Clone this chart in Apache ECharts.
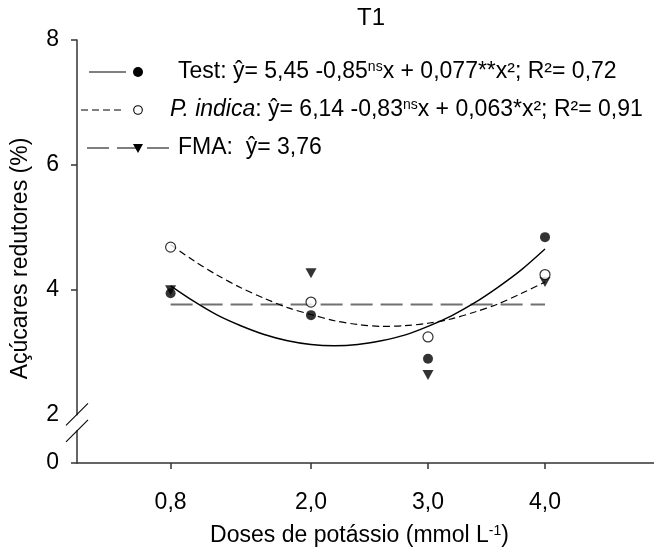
<!DOCTYPE html>
<html>
<head>
<meta charset="utf-8">
<script src="https://cdn.jsdelivr.net/npm/echarts@6/dist/echarts.min.js"></script>
<style>html,body{margin:0;padding:0;background:#fff}#c{width:654px;height:549px}</style>
</head>
<body>
<div id="c"></div>
<script>
// ---- data ----
const doses = [0.8, 2.0, 3.0, 4.0];
const yTickValues = [0, 2, 4, 6, 8];
const testObs = [3.94, 3.59, 2.89, 4.84];
const indicaObs = [4.68, 3.80, 3.24, 4.24];
const fmaObs = [3.99, 4.26, 2.63, 4.12];
const fmaMean = 3.76;
const curveX = [0.8, 1.0, 1.2, 1.4, 1.6, 1.8, 2.0, 2.2, 2.4, 2.6, 2.8, 3.0, 3.2, 3.4, 3.6, 3.8, 4.0];
const testFit = [4.06, 3.81, 3.59, 3.42, 3.28, 3.18, 3.12, 3.10, 3.12, 3.18, 3.27, 3.41, 3.58, 3.79, 4.04, 4.32, 4.65];
const indicaFit = [4.72, 4.46, 4.23, 4.03, 3.86, 3.71, 3.60, 3.50, 3.44, 3.41, 3.42, 3.46, 3.53, 3.64, 3.77, 3.94, 4.12];
const legendTexts = [
  'Test: ŷ= 5,45 -0,85{sup|ns}x + 0,077**x²; R²= 0,72',
  '{it|P. indica}: ŷ= 6,14 -0,83{sup|ns}x + 0,063*x²; R²= 0,91',
  'FMA:  ŷ= 3,76'
];

// ---- layout ----
const FONT = 'Liberation Sans, Arial, sans-serif';
const ZERO_POS = 1.22; // axis position where the broken y axis shows 0
const LEG_FS = 23;
const TICK_FS = 23;
const zip = (xs, ys) => xs.map((x, i) => [x, ys[i]]);
const fmt = v => v.toFixed(1).replace('.', ',');

const chart = echarts.init(document.getElementById('c'), null, {renderer: 'canvas'});
const axisColor = '#333';
const yPos = yTickValues.map(v => v === 0 ? ZERO_POS : v);

chart.setOption({
  animation: false,
  backgroundColor: '#fff',
  textStyle: {fontFamily: FONT},
  title: {text: 'T1', left: 352, top: 1,
    textStyle: {fontSize: 24, fontWeight: 'normal', color: '#000', fontFamily: FONT}},
  grid: {left: 77, top: 40, right: -8, bottom: 86, containLabel: false, outerBoundsMode: 'none'},
  xAxis: {
    type: 'value', min: 0, max: 5,
    name: 'Doses de potássio (mmol L{sup|-1})',
    nameLocation: 'middle', nameGap: 61,
    nameTextStyle: {fontSize: 23, color: '#000', fontFamily: FONT, padding: [0, 20, 0, 0],
      rich: {sup: {fontSize: 14, verticalAlign: 'top', color: '#000', fontFamily: FONT}}},
    axisLine: {show: true, onZero: false, lineStyle: {color: axisColor, width: 1.5}},
    axisTick: {show: true, inside: false, length: 6, customValues: doses,
      lineStyle: {color: axisColor, width: 1.5}},
    axisLabel: {customValues: doses, formatter: v => fmt(v), margin: 28,
      fontSize: TICK_FS, color: '#000', fontFamily: FONT},
    splitLine: {show: false}
  },
  yAxis: {
    type: 'value', min: ZERO_POS, max: 8,
    name: 'Açúcares redutores (%)',
    nameLocation: 'middle', nameGap: 45,
    nameTextStyle: {fontSize: 23, color: '#000', fontFamily: FONT, padding: [0, 14, 0, 0]},
    axisLine: {show: true, onZero: false, lineStyle: {color: axisColor, width: 1.5}},
    axisTick: {show: true, inside: false, length: 6,
      customValues: yPos.filter(v => v !== 2), lineStyle: {color: axisColor, width: 1.5}},
    axisLabel: {customValues: yPos, margin: 18,
      formatter: v => (Math.abs(v - ZERO_POS) < 1e-6 ? '0' : String(Math.round(v))),
      fontSize: TICK_FS, color: '#000', fontFamily: FONT},
    splitLine: {show: false}
  },
  series: [
    {name: 'Test fit', type: 'line', data: zip(curveX, testFit), smooth: 0.3,
      showSymbol: false, symbol: 'none', lineStyle: {color: '#000', width: 1.4}, z: 3},
    {name: 'P. indica fit', type: 'line', data: zip(curveX, indicaFit), smooth: 0.3,
      showSymbol: false, symbol: 'none', lineStyle: {color: '#000', width: 1.2, type: [7, 4]}, z: 3},
    {name: 'FMA', type: 'line', data: [[doses[0], fmaMean], [doses[doses.length - 1], fmaMean]],
      showSymbol: false, symbol: 'none', lineStyle: {color: '#707070', width: 2, type: [22, 8]}, z: 2},
    {name: 'FMA obs', type: 'scatter', data: zip(doses, fmaObs), symbol: 'triangle',
      symbolRotate: 180, symbolSize: [11, 10], itemStyle: {color: '#000'}, z: 4},
    {name: 'Test obs', type: 'scatter', data: zip(doses, testObs), symbol: 'circle',
      symbolSize: 10, itemStyle: {color: '#000'}, z: 5},
    {name: 'P. indica obs', type: 'scatter', data: zip(doses, indicaObs), symbol: 'circle',
      symbolSize: 10, itemStyle: {color: '#fff', borderColor: '#000', borderWidth: 1.2}, z: 6}
  ]
});

// ---- legend & axis break decorations ----
const ax = chart.convertToPixel({xAxisIndex: 0}, 0);
const y2 = chart.convertToPixel({yAxisIndex: 0}, 2);
const rich = {
  sup: {fontSize: 14, verticalAlign: 'top', fill: '#000', fontFamily: FONT},
  it: {fontSize: LEG_FS, fontStyle: 'italic', fill: '#000', fontFamily: FONT}
};
const rowY = [72, 110, 148];
const textStyleFor = (i, x) => ({
  type: 'text', x: x, y: rowY[i],
  style: {text: legendTexts[i], rich: rich, fontSize: LEG_FS, fontFamily: FONT, fill: '#000',
    verticalAlign: 'middle', align: 'left'}
});
chart.setOption({
  graphic: [
    {type: 'line', shape: {x1: 89, y1: rowY[0], x2: 126, y2: rowY[0]}, style: {stroke: '#000', lineWidth: 1.2}},
    {type: 'circle', shape: {cx: 138, cy: rowY[0], r: 5}, style: {fill: '#000'}},
    textStyleFor(0, 178),
    {type: 'line', shape: {x1: 81, y1: rowY[1], x2: 123, y2: rowY[1]}, style: {stroke: '#000', lineWidth: 1.1, lineDash: [7, 4]}},
    {type: 'circle', shape: {cx: 138, cy: rowY[1], r: 4.3}, style: {fill: '#fff', stroke: '#000', lineWidth: 1.1}},
    textStyleFor(1, 170),
    {type: 'line', shape: {x1: 87, y1: rowY[2], x2: 171, y2: rowY[2]}, style: {stroke: '#000', lineWidth: 1.2, lineDash: [22, 8]}},
    {type: 'polygon', shape: {points: [[133, rowY[2] - 4], [143, rowY[2] - 4], [138, rowY[2] + 5]]}, style: {fill: '#000'}},
    textStyleFor(2, 178),
    {type: 'rect', shape: {x: ax - 4, y: y2 + 1, width: 8, height: 15}, style: {fill: '#fff'}, z: 100},
    {type: 'line', shape: {x1: ax - 11, y1: y2 + 11, x2: ax + 11, y2: y2 - 11}, style: {stroke: '#000', lineWidth: 1.1}, z: 101},
    {type: 'line', shape: {x1: ax - 11, y1: y2 + 27.5, x2: ax + 11, y2: y2 + 5.5}, style: {stroke: '#000', lineWidth: 1.1}, z: 101}
  ]
});
</script>
</body>
</html>
